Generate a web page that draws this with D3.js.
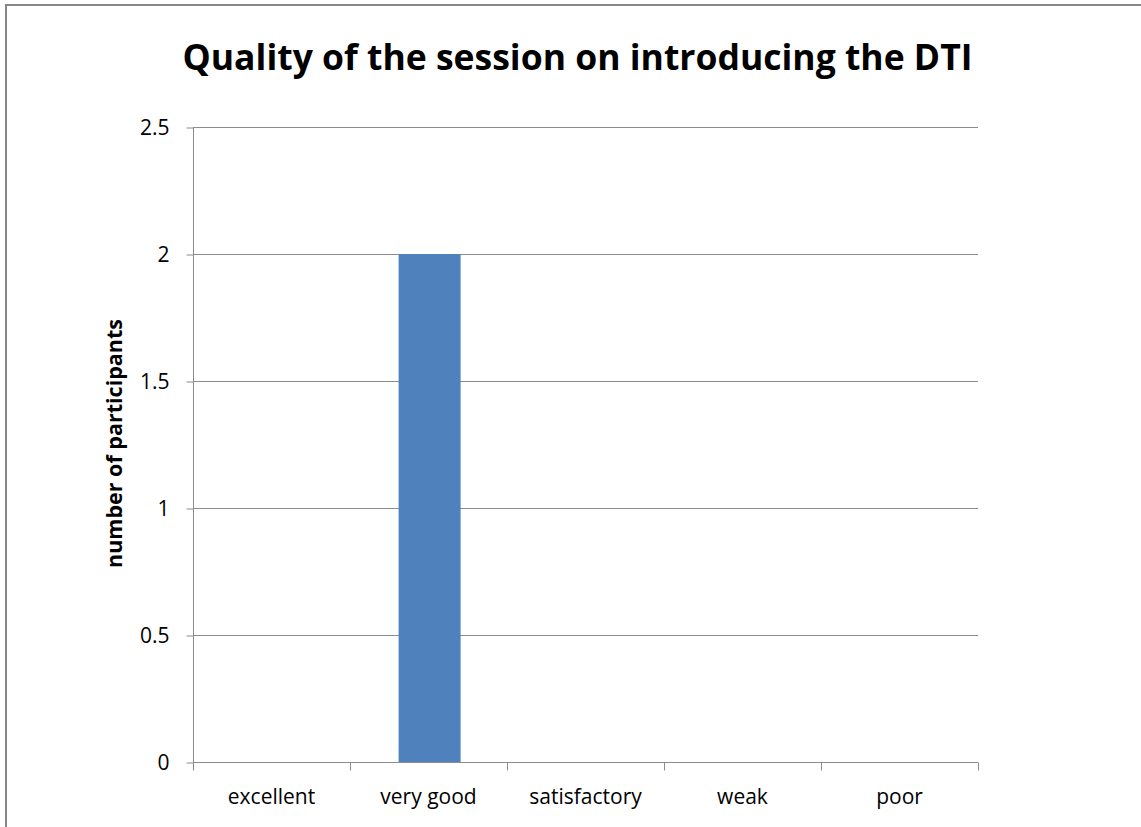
<!DOCTYPE html>
<html><head><meta charset="utf-8">
<script src="https://cdn.jsdelivr.net/npm/d3@7"></script>
<style>body{margin:0;background:#fff}svg{display:block}</style>
</head><body>
<svg id="c" width="1141" height="827"></svg>
<script>
const categories = ["excellent","very good","satisfactory","weak","poor"];
const values = [0,2,0,0,0];
const yTicks = [0,0.5,1,1.5,2,2.5];
const yTickLabels = ["0","0.5","1","1.5","2","2.5"];
const title = "Quality of the session on introducing the DTI";
const yTitle = "number of participants";

const svg = d3.select("#c");
const font = "'Open Sans', 'Noto Sans', sans-serif";
const m = {l:193, r:978, t:127, b:762};

svg.append("rect").attr("x",6).attr("y",5).attr("width",1150).attr("height",840)
  .attr("fill","#fff").attr("stroke","#878787").attr("stroke-width",2);

const x = d3.scaleBand().domain(categories).range([m.l,m.r]).paddingInner(0).paddingOuter(0);
const y = d3.scaleLinear().domain([0,2.5]).range([m.b,m.t]);

// gridlines
svg.append("g").selectAll("line").data(yTicks.filter(d=>d>0)).join("line")
  .attr("x1",m.l).attr("x2",m.r).attr("y1",d=>y(d)+0.5).attr("y2",d=>y(d)+0.5)
  .attr("stroke","#8c8c8c").attr("stroke-width",1);

// bars
const bw = x.bandwidth()/2.5;
svg.append("g").selectAll("rect").data(categories.map((c,i)=>({c,v:values[i]})).filter(d=>d.v>0)).join("rect")
  .attr("x",d=>x(d.c)+(x.bandwidth()-bw)/2+1.5).attr("width",bw-0.8)
  .attr("y",d=>y(d.v)).attr("height",d=>y(0)-y(d.v))
  .attr("fill","#4f81bd");

// y axis
const ya = d3.axisLeft(y).tickValues(yTicks).tickFormat((d,i)=>yTickLabels[i]).tickSize(7).tickPadding(17);
const gy = svg.append("g").attr("transform",`translate(${m.l+0.5},0.5)`).call(ya);
gy.selectAll("path,line").attr("stroke","#8c8c8c");
gy.select(".domain").attr("d",`M0,${m.t}V${m.b}`);
gy.selectAll("text").attr("font-family",font).attr("font-size",21).attr("fill","#000").attr("dy","0.33em");

// x axis
const xa = d3.axisBottom(x).tickSize(0).tickPadding(27);
const gx = svg.append("g").attr("transform",`translate(0,${m.b+0.5})`).call(xa);
gx.select(".domain").attr("stroke","#8c8c8c").attr("d",`M${m.l},0H${m.r}`);
gx.selectAll("text").attr("font-family",font).attr("font-size",21).attr("fill","#000");
const bounds = categories.map(c=>x(c)).concat([m.r]);
gx.append("g").selectAll("line").data(bounds).join("line")
  .attr("x1",d=>Math.round(d)+0.5).attr("x2",d=>Math.round(d)+0.5).attr("y1",0).attr("y2",8)
  .attr("stroke","#8c8c8c");

// titles
svg.append("text").attr("x",(m.l+m.r)/2-8).attr("y",70).attr("text-anchor","middle")
  .attr("font-family",font).attr("font-weight","bold").attr("font-size",35.5).attr("fill","#000").text(title);
svg.append("text").attr("transform",`translate(122,${(m.t+m.b)/2 - 1}) rotate(-90)`).attr("text-anchor","middle")
  .attr("font-family",font).attr("font-weight","bold").attr("font-size",21.5).attr("fill","#000").text(yTitle);
</script>
</body></html>
